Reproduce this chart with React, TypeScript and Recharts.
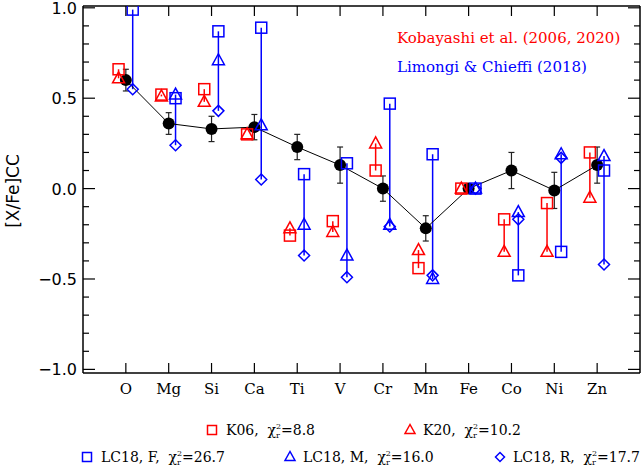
import React from 'react';
import { ComposedChart, Scatter, XAxis, YAxis, ErrorBar } from 'recharts';

const ELEMENTS = ['O', 'Mg', 'Si', 'Ca', 'Ti', 'V', 'Cr', 'Mn', 'Fe', 'Co', 'Ni', 'Zn'];
const OBSERVED = [0.60, 0.36, 0.33, 0.34, 0.23, 0.13, 0.00, -0.22, 0.00, 0.10, -0.01, 0.13];
const OBSERVED_ERR = [0.06, 0.06, 0.07, 0.07, 0.07, 0.10, 0.07, 0.07, 0, 0.10, 0.10, 0.10];
const K06 = [0.66, 0.52, 0.55, 0.30, -0.26, -0.18, 0.10, -0.44, 0.00, -0.17, -0.08, 0.20];
const K20 = [0.61, 0.51, 0.48, 0.30, -0.22, -0.24, 0.25, -0.34, 0.00, -0.35, -0.35, -0.05];
const LC18_F = [0.99, 0.50, 0.87, 0.89, 0.08, 0.14, 0.47, 0.19, 0.00, -0.48, -0.35, 0.10];
const LC18_M = [null, 0.52, 0.71, 0.35, -0.20, -0.37, -0.20, -0.50, 0.00, -0.13, 0.19, 0.18];
const LC18_R = [0.55, 0.24, 0.43, 0.05, -0.37, -0.49, -0.21, -0.48, 0.00, -0.17, 0.17, -0.42];

const X_TICKS = [1, 2, 3, 4, 5, 6, 7, 8, 9, 10, 11, 12];
const Y_TICKS = [-1.0, -0.9, -0.8, -0.7, -0.6, -0.5, -0.4, -0.3, -0.2, -0.1, 0.0,
  0.1, 0.2, 0.3, 0.4, 0.5, 0.6, 0.7, 0.8, 0.9, 1.0];
const Y_MAJOR = [-1.0, -0.5, 0.0, 0.5, 1.0];

const LEGEND_NAMES = ['K06', 'K20', 'LC18, F', 'LC18, M', 'LC18, R'];
const LEGEND_CHI2 = ['8.8', '10.2', '26.7', '16.0', '17.7'];

const RED = '#ff0000';
const BLUE = '#0000ff';
const RED_DX = -0.17;
const BLUE_DX = 0.16;

type Kind = 'square' | 'triangle' | 'diamond';

function marker(kind: Kind, cx: number, cy: number, color: string, r = 5.5) {
  if (kind === 'square') {
    return <rect x={cx - r} y={cy - r} width={2 * r} height={2 * r} fill="none" stroke={color} strokeWidth={1.5} />;
  }
  if (kind === 'triangle') {
    const pts = `${cx},${cy - r - 1} ${cx - r - 0.5},${cy + r - 1} ${cx + r + 0.5},${cy + r - 1}`;
    return <polygon points={pts} fill="none" stroke={color} strokeWidth={1.5} />;
  }
  const pts = `${cx},${cy - r} ${cx + r},${cy} ${cx},${cy + r} ${cx - r},${cy}`;
  return <polygon points={pts} fill="none" stroke={color} strokeWidth={1.5} />;
}

const shapeOf = (kind: Kind, color: string) => (p: any) =>
  p.cx == null || p.cy == null ? <g /> : marker(kind, p.cx, p.cy, color);

const pointsOf = (values: (number | null)[], dx: number) =>
  values
    .map((v, i) => ({ x: X_TICKS[i] + dx, y: v }))
    .filter((d) => d.y !== null);

const rangeOf = (groups: (number | null)[][], dx: number) =>
  ELEMENTS.map((_, i) => {
    const vals = groups.map((g) => g[i]).filter((v) => v !== null) as number[];
    const lo = Math.min(...vals);
    const hi = Math.max(...vals);
    return { x: X_TICKS[i] + dx, y: hi, range: [hi - lo, 0] };
  });

const observedData = OBSERVED.map((v, i) => ({ x: X_TICKS[i], y: v, err: OBSERVED_ERR[i] }));
const redRange = rangeOf([K06, K20], RED_DX);
const blueRange = rangeOf([LC18_F, LC18_M, LC18_R], BLUE_DX);

const isMajor = (v: number) => Y_MAJOR.some((m) => Math.abs(m - v) < 1e-6);
const fmtY = (v: number) => (v < -1e-6 ? '\u2212' + Math.abs(v).toFixed(1) : Math.abs(v).toFixed(1));

const LeftTick = (p: any) => {
  const v = p.payload.value;
  const ax = p.x + 6;
  const major = isMajor(v);
  return (
    <g>
      <line x1={ax} x2={ax + (major ? 12 : 6)} y1={p.y} y2={p.y} stroke="#000" strokeWidth={1.2} />
      {major && (
        <text x={p.x} y={p.y + 6} textAnchor="end" fontFamily="DejaVu Sans" fontSize={16} fill="#000">
          {fmtY(v)}
        </text>
      )}
    </g>
  );
};

const RightTick = (p: any) => {
  const v = p.payload.value;
  const major = isMajor(v);
  return <line x1={p.x} x2={p.x - (major ? 12 : 6)} y1={p.y} y2={p.y} stroke="#000" strokeWidth={1.2} />;
};

const BottomTick = (p: any) => (
  <g>
    <line x1={p.x} x2={p.x} y1={p.y} y2={p.y - 10} stroke="#000" strokeWidth={1.2} />
    <text x={p.x} y={p.y + 21} textAnchor="middle" fontFamily="DejaVu Serif" fontSize={15} fill="#000">
      {ELEMENTS[p.payload.value - 1]}
    </text>
  </g>
);

const TopTick = (p: any) => (
  <line x1={p.x} x2={p.x} y1={p.y} y2={p.y + 10} stroke="#000" strokeWidth={1.2} />
);

const LEGEND_POS = [
  { mx: 212, tx: 226, y: 435, kind: 'square' as Kind, color: RED },
  { mx: 410, tx: 423, y: 435, kind: 'triangle' as Kind, color: RED },
  { mx: 87, tx: 101, y: 462, kind: 'square' as Kind, color: BLUE },
  { mx: 290, tx: 303, y: 462, kind: 'triangle' as Kind, color: BLUE },
  { mx: 500, tx: 513, y: 462, kind: 'diamond' as Kind, color: BLUE },
];

function Legend() {
  return (
    <svg width={641} height={472} style={{ position: 'absolute', left: 0, top: 0, pointerEvents: 'none' }}>
      <text x={397} y={43} fontFamily="DejaVu Serif" fontSize={15} fill={RED}>Kobayashi et al. (2006, 2020)</text>
      <text x={397} y={72} fontFamily="DejaVu Serif" fontSize={15} fill={BLUE}>Limongi &amp; Chieffi (2018)</text>
      <text transform="translate(19,191) rotate(-90)" textAnchor="middle" fontFamily="DejaVu Sans" fontSize={17} fill="#000">
        [X/Fe]CC
      </text>
      {LEGEND_POS.map((l, i) => (
        <g key={i}>
          {marker(l.kind, l.mx, l.y - 5, l.color, 4.5)}
          <text x={l.tx} y={l.y} fontFamily="DejaVu Serif" fontSize={14} fill="#000" style={{ whiteSpace: 'pre' }}>
            {LEGEND_NAMES[i] + ',  \u03c7'}
            <tspan fontSize={8} dy={3}>r</tspan>
            <tspan fontSize={8} dx={-4} dy={-9}>2</tspan>
            <tspan fontSize={14} dy={6}>{'=' + LEGEND_CHI2[i]}</tspan>
          </text>
        </g>
      ))}
    </svg>
  );
}

export default function App() {
  const frame = { stroke: '#000', strokeWidth: 1.5 };
  return (
    <div style={{ position: 'relative', width: 641, height: 472, background: '#fff' }}>
      <style>{'body{margin:0}'}</style>
      <ComposedChart width={641} height={472} margin={{ top: 5, right: 0, bottom: 0, left: 0 }}>
        <XAxis xAxisId="bottom" type="number" dataKey="x" domain={[0, 13]} ticks={X_TICKS} interval={0}
          height={99} tickSize={0} tickMargin={0} tickLine={false} axisLine={frame} tick={BottomTick} allowDataOverflow />
        <XAxis xAxisId="top" orientation="top" type="number" dataKey="x" domain={[0, 13]} ticks={X_TICKS} interval={0}
          height={1} tickSize={0} tickMargin={0} tickLine={false} axisLine={frame} tick={TopTick} allowDataOverflow />
        <YAxis yAxisId="left" type="number" dataKey="y" domain={[-1.02, 1.01]} ticks={Y_TICKS} interval={0}
          width={83} tickSize={0} tickMargin={6} tickLine={false} axisLine={frame} tick={LeftTick} allowDataOverflow />
        <YAxis yAxisId="right" orientation="right" type="number" dataKey="y" domain={[-1.02, 1.01]} ticks={Y_TICKS}
          interval={0} width={1} tickSize={0} tickMargin={0} tickLine={false} axisLine={frame} tick={RightTick} allowDataOverflow />

        <Scatter xAxisId="top" yAxisId="right" data={observedData} shape={() => <g />} isAnimationActive={false} />

        <Scatter xAxisId="bottom" yAxisId="left" data={observedData} isAnimationActive={false}
          line={{ stroke: '#000', strokeWidth: 1 }}
          shape={(p: any) => <circle cx={p.cx} cy={p.cy} r={6} fill="#000" />}>
          <ErrorBar dataKey="err" direction="y" width={3} stroke="#222" strokeWidth={1.2} isAnimationActive={false} />
        </Scatter>

        <Scatter xAxisId="bottom" yAxisId="left" data={redRange} shape={() => <g />} isAnimationActive={false}>
          <ErrorBar dataKey="range" direction="y" width={0} stroke={RED} strokeWidth={1.5} isAnimationActive={false} />
        </Scatter>
        <Scatter xAxisId="bottom" yAxisId="left" data={pointsOf(K06, RED_DX)} shape={shapeOf('square', RED)} isAnimationActive={false} />
        <Scatter xAxisId="bottom" yAxisId="left" data={pointsOf(K20, RED_DX)} shape={shapeOf('triangle', RED)} isAnimationActive={false} />

        <Scatter xAxisId="bottom" yAxisId="left" data={blueRange} shape={() => <g />} isAnimationActive={false}>
          <ErrorBar dataKey="range" direction="y" width={0} stroke={BLUE} strokeWidth={1.5} isAnimationActive={false} />
        </Scatter>
        <Scatter xAxisId="bottom" yAxisId="left" data={pointsOf(LC18_F, BLUE_DX)} shape={shapeOf('square', BLUE)} isAnimationActive={false} />
        <Scatter xAxisId="bottom" yAxisId="left" data={pointsOf(LC18_M, BLUE_DX)} shape={shapeOf('triangle', BLUE)} isAnimationActive={false} />
        <Scatter xAxisId="bottom" yAxisId="left" data={pointsOf(LC18_R, BLUE_DX)} shape={shapeOf('diamond', BLUE)} isAnimationActive={false} />
      </ComposedChart>
      <Legend />
    </div>
  );
}
